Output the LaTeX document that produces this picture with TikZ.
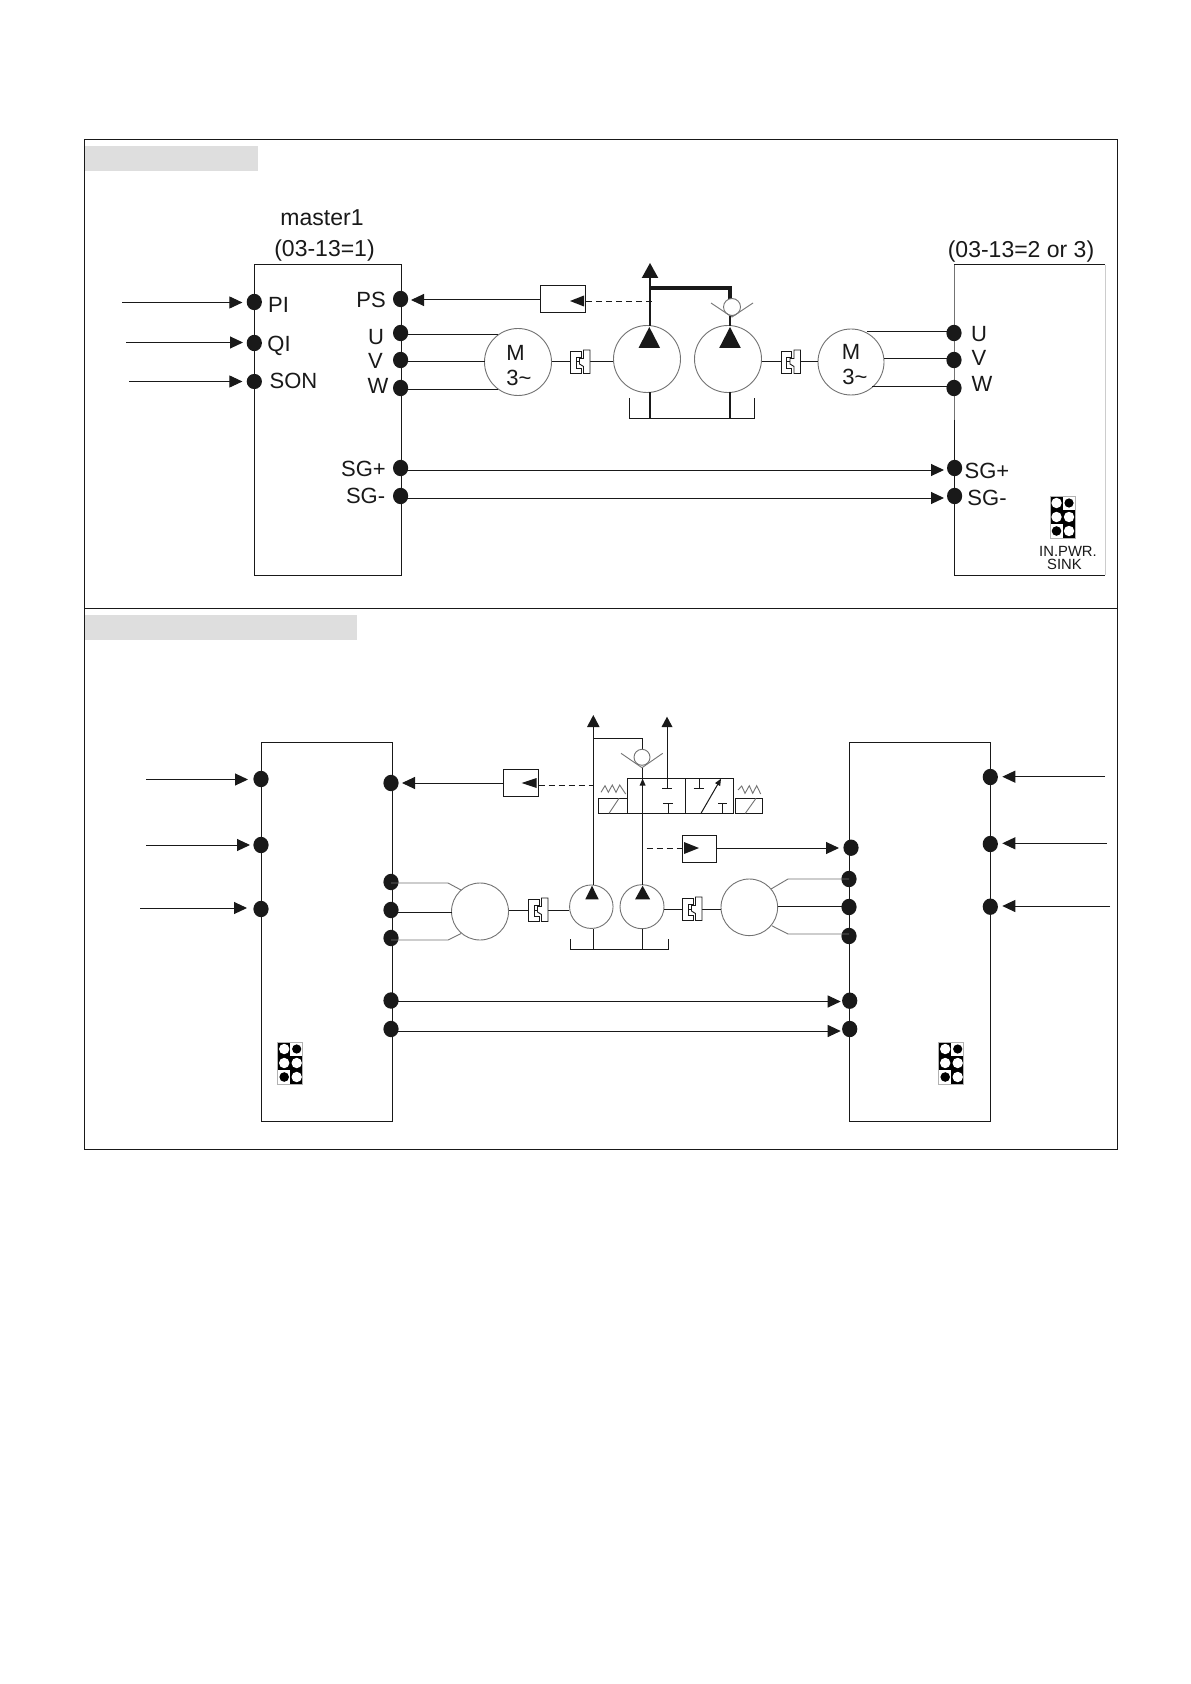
\documentclass[tikz,border=0pt]{standalone}
\usepackage{fontspec}
\setmainfont{Liberation Sans}
\usetikzlibrary{arrows.meta,shapes.geometric}
\definecolor{bandgrey}{gray}{0.87}
\definecolor{thing}{gray}{0.45}
\definecolor{ink}{gray}{0.1}
\tikzset{
  px/.style={x=0.5pt,y=-0.5pt},
  line/.style={draw=ink,line width=0.5pt},
  thinline/.style={draw=thing,line width=0.45pt},
  heavy/.style={draw=ink,line width=1.2pt},
  sig/.style={line,-{Triangle[length=6.5pt,width=6pt]}},
  dashsig/.style={draw=ink,line width=0.5pt,dash pattern=on 3pt off 2pt},
  termdot/.style={ellipse,fill=ink,inner sep=0pt,minimum width=7.6pt,minimum height=8.2pt},
  rotor/.style={circle,draw=thing,line width=0.45pt,inner sep=0pt,fill=white},
  lab/.style={inner sep=0pt,font=\fontsize{11}{11}\selectfont,text=ink},
  biglab/.style={inner sep=0pt,font=\fontsize{11.5}{11.5}\selectfont,text=ink},
  tinylab/.style={inner sep=0pt,font=\fontsize{7.4}{7.4}\selectfont,text=ink,text height=5.3pt,text depth=0pt},
  housing/.style={rectangle,draw=ink,line width=0.5pt,inner sep=0pt,fill=white},
  sensor/.style={rectangle,draw=ink,line width=0.5pt,inner sep=0pt,fill=white},
  coupling/.pic={
    \draw[draw=ink,line width=0.45pt,fill=white] (-10,-11)--(0.5,-11)--(0.5,-5)--(-4.5,-5)--(-4.5,6)--(0.5,6)--(0.5,11.5)--(-10,11.5)--cycle;
    \draw[draw=ink,line width=0.45pt,fill=white] (3,-12)--(9.5,-12)--(9.5,11.5)--(3,11.5)--(3,4.5)--(-1,2)--(-1,-3.5)--(3,-3.5)--cycle;
  },
  jumper/.pic={
    \fill[white] (0,0) rectangle (25,42);
    \fill[black] (0,0) rectangle (12.5,28);
    \fill[black] (12.5,14) rectangle (25,42);
    \draw[gray!60,line width=0.3pt] (0,0) rectangle (25,42);
    \fill[white] (6.5,7) circle [radius=5.2];
    \fill[black] (19,7) circle [radius=4.6];
    \fill[white] (6.5,21) circle [radius=5.2];
    \fill[white] (19,21) circle [radius=5.2];
    \fill[black] (6.5,35) circle [radius=4.8];
    \fill[white] (19,35) circle [radius=5.2];
  },
}
\begin{document}
\begin{tikzpicture}[px]
\useasboundingbox (0,0) rectangle (1190,1684);
\fill[white] (0,0) rectangle (1190,1684);
% frames
\fill[bandgrey] (85,146) rectangle (258,171);
\fill[bandgrey] (85,615) rectangle (357,640);
\draw[line] (84.3,139.5) rectangle (1117,1149);
\draw[line] (84.3,608.5) -- (1117,608.5);

% ---------- upper panel ----------
\node[housing,minimum width=73.5pt,minimum height=155pt] (mA) at (327.5,420) {};
\draw[draw=thing,line width=0.5pt] (954,265) -- (954,420);
\draw[line] (954,265) -- (1105,265);
\draw[line] (954,420) -- (954,575) -- (1105,575);
\draw[draw=gray!40,line width=0.5pt] (1105,265) -- (1105,575);

\node[termdot] (aPI) at (254.3,302) {};
\node[termdot] (aQI) at (254.3,343) {};
\node[termdot,minimum height=7.6pt] (aSON) at (254.3,381.5) {};
\node[termdot] (aPS) at (400.6,299) {};
\node[termdot] (aU) at (400.6,333) {};
\node[termdot] (aV) at (400.6,360) {};
\node[termdot] (aW) at (400.6,388) {};
\node[termdot] (aSP) at (400.6,468) {};
\node[termdot] (aSM) at (400.6,496) {};
\node[termdot] (bU) at (954,333) {};
\node[termdot] (bV) at (954,360) {};
\node[termdot] (bW) at (954,388) {};
\node[termdot] (bSP) at (954.6,468) {};
\node[termdot] (bSM) at (954.6,496) {};

\coordinate (iPI) at (122,302.5);
\coordinate (iQI) at (126.4,342.5);
\coordinate (iSON) at (129,381.5);
\coordinate (tPI) at (242.4,302.5);
\coordinate (tQI) at (243,342.5);
\coordinate (tSON) at (242.4,381.5);
\draw[sig] (iPI) -- (tPI);
\draw[sig] (iQI) -- (tQI);
\draw[sig] (iSON) -- (tSON);

\node[sensor,minimum width=22.5pt,minimum height=13.5pt] (fbA) at (563,299.5) {};
\coordinate (tPS) at (411,300);
\draw[sig] (fbA.west |- tPS) -- (tPS);
\fill[ink] (570,301)--(584,295.5)--(584,306.5)--cycle;

\node[rotor,minimum size=33.5pt] (mot1) at (518,362) {};
\node[rotor,minimum size=33.5pt] (pmp1) at (647,359) {};
\node[rotor,minimum size=33.5pt] (pmp2) at (728,359) {};
\node[rotor,minimum size=33pt] (mot2) at (851,362) {};
\node[lab] (m1a) at (515.5,353) {M};
\node[lab] (m1b) at (519,378) {3\textasciitilde};
\node[lab] (m2a) at (851,352) {M};
\node[lab] (m2b) at (855,377) {3\textasciitilde};

\coordinate (wU1) at (498,335);
\coordinate (wV1) at (484.5,362);
\coordinate (wW1) at (498,390);
\draw[line] (aU |- wU1) -- (wU1);
\draw[line] (aV |- wV1) -- (wV1);
\draw[line] (aW |- wW1) -- (wW1);
\coordinate (wU2) at (867,332);
\coordinate (wV2) at (884,359);
\coordinate (wW2) at (872,387);
\draw[line] (wU2) -- (bU |- wU2);
\draw[line] (wV2) -- (bV |- wV2);
\draw[line] (wW2) -- (bW |- wW2);

\coordinate (cA) at (580.5,362);
\coordinate (cB) at (791,362);
\draw[line] (mot1.east) -- (cA);
\draw[line] (cA) -- (pmp1.west |- cA);
\draw[line] (pmp2.east |- cB) -- (cB);
\draw[line] (cB) -- (mot2.west);
\pic at (cA) {coupling};
\pic at (cB) {coupling};

% pumps, upper
\coordinate (up1) at (650,263);
\coordinate (up1b) at (650,326);
\draw[heavy] (up1b) -- (650,276);
\fill[ink] (650,263)--(641.7,278)--(658.3,278)--cycle;
\coordinate (jn1) at (650,288);
\coordinate (jn2) at (730,288);
\coordinate (jn3) at (730,299);
\draw[draw=ink,line width=1.7pt] (jn1) -- (jn2) -- (jn3);
\node[rotor,minimum size=8.5pt] (ck1) at (732,307) {};
\coordinate (v1l) at (711,303);
\coordinate (v1b) at (732,317);
\coordinate (v1r) at (753,303);
\draw[thinline] (v1l) -- (v1b) -- (v1r);
\draw[heavy] (730,316) -- (730,326);
\fill[ink] (649.3,327)--(638.5,348)--(660.1,348)--cycle;
\fill[ink] (730,327)--(719.2,348)--(740.8,348)--cycle;
\coordinate (t1a) at (629.4,398);
\coordinate (t1b) at (629.4,419);
\coordinate (t1c) at (754.7,419);
\coordinate (t1d) at (754.7,398);
\draw[line] (t1a) -- (t1b) -- (t1c) -- (t1d);
\draw[heavy] (650,392.5) -- (650,419);
\draw[heavy] (730,392.5) -- (730,419);
\coordinate (dA) at (652,302);
\draw[dashsig] (fbA.east |- dA) -- (dA);

\coordinate (sgA) at (944,470);
\coordinate (sgB) at (944,498);
\draw[sig] (aSP |- sgA) -- (sgA);
\draw[sig] (aSM |- sgB) -- (sgB);

\node[biglab] (tMaster) at (322,218) {master1};
\node[biglab] (tOne) at (324.5,250.5) {(03-13=1)};
\node[biglab] (tTwo) at (1021,251.5) {(03-13=2 or 3)};
\node[lab] (lPI) at (278.5,305) {PI};
\node[lab] (lQI) at (279,346) {QI};
\node[lab] (lSON) at (293.5,381) {SON};
\node[lab] (lPS) at (371,300) {PS};
\node[lab] (lU) at (376,337) {U};
\node[lab] (lV) at (375.5,360.5) {V};
\node[lab] (lW) at (378,386) {W};
\node[lab] (lSP) at (363.5,469) {SG+};
\node[lab] (lSM) at (365.6,496) {SG-};
\node[lab] (rU) at (979,334) {U};
\node[lab] (rV) at (979,358) {V};
\node[lab] (rW) at (982,383.5) {W};
\node[lab] (rSP) at (987,471) {SG+};
\node[lab] (rSM) at (987,498) {SG-};
\pic at (1050,496) {jumper};
\node[tinylab] (jIn) at (1068,551.5) {IN.PWR.};
\node[tinylab] (jSink) at (1064.5,564.5) {SINK};

% ---------- lower panel ----------
\node[housing,minimum width=65.5pt,minimum height=189.5pt] (mC) at (326.5,931.5) {};
\node[housing,minimum width=70.5pt,minimum height=189.5pt] (mD) at (919.8,931.5) {};

\node[termdot] (cI1) at (261,779) {};
\node[termdot] (cI2) at (261,845) {};
\node[termdot] (cI3) at (261,909) {};
\node[termdot] (cPS) at (391,783) {};
\node[termdot] (cU) at (391,882) {};
\node[termdot] (cV) at (391,910) {};
\node[termdot] (cW) at (391,938) {};
\node[termdot] (cSP) at (391,1000.5) {};
\node[termdot] (cSM) at (391,1029) {};
\node[termdot] (dPS) at (851,847.7) {};
\node[termdot] (dU) at (849,879) {};
\node[termdot] (dV) at (849,907) {};
\node[termdot] (dW) at (849,936) {};
\node[termdot] (dSP) at (849.7,1000.7) {};
\node[termdot] (dSM) at (849.7,1029) {};
\node[termdot] (dI1) at (990.3,777) {};
\node[termdot] (dI2) at (990.3,844) {};
\node[termdot] (dI3) at (990.3,906.7) {};

\coordinate (iC1) at (146,779.5);
\coordinate (iC2) at (146,845);
\coordinate (iC3) at (140,908);
\coordinate (tC1) at (248,779.5);
\coordinate (tC2) at (250,845);
\coordinate (tC3) at (247,908);
\draw[sig] (iC1) -- (tC1);
\draw[sig] (iC2) -- (tC2);
\draw[sig] (iC3) -- (tC3);
\coordinate (iD1) at (1105,776.7);
\coordinate (iD2) at (1106.7,843.3);
\coordinate (iD3) at (1110,906);
\coordinate (tD1) at (1002.3,776.7);
\coordinate (tD2) at (1002.3,843.3);
\coordinate (tD3) at (1002.3,906);
\draw[sig] (iD1) -- (tD1);
\draw[sig] (iD2) -- (tD2);
\draw[sig] (iD3) -- (tD3);

\node[sensor,minimum width=17.5pt,minimum height=13.5pt] (fbC) at (520.5,782.5) {};
\coordinate (tCP) at (402,783);
\draw[sig] (fbC.west |- tCP) -- (tCP);
\fill[ink] (521.7,783)--(536.7,778)--(536.7,788)--cycle;
\coordinate (dC) at (593.3,785);
\draw[dashsig] (fbC.east |- dC) -- (dC);

\node[sensor,minimum width=17pt,minimum height=13.5pt] (fbD) at (699,848.5) {};
\fill[ink] (699,848)--(684,842)--(684,854)--cycle;
\coordinate (dD) at (646.7,848);
\draw[dashsig] (dD) -- (fbD.west |- dD);
\coordinate (tDP) at (839,848);
\draw[sig] (fbD.east |- tDP) -- (tDP);

\node[rotor,minimum size=28.5pt] (mot3) at (480,911.5) {};
\node[rotor,minimum size=21.75pt] (pmp3) at (591.3,906.7) {};
\node[rotor,minimum size=22pt] (pmp4) at (642,906.7) {};
\node[rotor,minimum size=28.3pt] (mot4) at (749.3,907.3) {};

\coordinate (x1) at (448,883);
\coordinate (x2) at (461,890);
\coordinate (x3) at (448,940);
\coordinate (x4) at (461,933.5);
\coordinate (x5) at (452,912);
\draw[thinline] (cU |- x1) -- (x1) -- (x2);
\draw[line] (cV |- x5) -- (x5);
\draw[thinline] (cW |- x3) -- (x3) -- (x4);
\coordinate (y1) at (771,889);
\coordinate (y2) at (788,879);
\coordinate (y3) at (771.7,925.7);
\coordinate (y4) at (788,934);
\coordinate (y5) at (777.7,906);
\draw[thinline] (y1) -- (y2) -- (dU |- y2);
\draw[line] (y5) -- (dV |- y5);
\draw[thinline] (y3) -- (y4) -- (dW |- y4);

\coordinate (cC) at (538.5,910);
\coordinate (cD) at (692.5,909);
\draw[line] (mot3.east |- cC) -- (cC);
\draw[line] (cC) -- (pmp3.west |- cC);
\draw[line] (pmp4.east |- cD) -- (cD);
\draw[line] (cD) -- (mot4.west |- cD);
\pic at (cC) {coupling};
\pic at (cD) {coupling};

% lower hydraulics
\coordinate (p3t) at (593.3,884.5);
\coordinate (ar1) at (593.3,726);
\draw[line] (p3t) -- (ar1);
\fill[ink] (593.3,715)--(587,727)--(599.6,727)--cycle;
\coordinate (b1) at (593.3,738);
\coordinate (b2) at (642.3,738);
\coordinate (b3) at (642.3,749.5);
\draw[line] (b1) -- (b2) -- (b3);
\node[rotor,minimum size=8pt] (ck2) at (642,757.3) {};
\coordinate (v2l) at (621,753.3);
\coordinate (v2b) at (642,767.7);
\coordinate (v2r) at (662.7,753.3);
\draw[thinline] (v2l) -- (v2b) -- (v2r);
\coordinate (vt) at (642.3,778.3);
\draw[line] (642.3,767.7) -- (vt);
\node[rectangle,draw=ink,line width=0.5pt,inner sep=0pt,minimum width=53pt,minimum height=17.5pt] (vlv) at (680.3,795.8) {};
\draw[line] (685.3,778.3) -- (685.3,813.3);
\draw[line] (vt) -- (642.3,884.5);
\fill[ink] (642.6,778.7)--(639.6,785.5)--(645.6,785.5)--cycle;
\fill[ink] (592,885.7)--(585.3,899.3)--(598.7,899.3)--cycle;
\fill[ink] (642.6,885.7)--(635.1,899.3)--(650.1,899.3)--cycle;
% second outlet
\coordinate (ar2) at (667,726);
\coordinate (tb2) at (667,788.3);
\draw[line] (tb2) -- (ar2);
\fill[ink] (667,716.7)--(661.5,727)--(672.5,727)--cycle;
\draw[line] (662,788.3) -- (672,788.3);
\draw[line] (668.3,813.3) -- (668.3,803.3);
\draw[line] (663,803.3) -- (673,803.3);
\draw[line] (699,778.3) -- (699,788.3);
\draw[line] (693.7,788.3) -- (704,788.3);
\draw[line,-{Triangle[length=3.4pt,width=2.8pt]}] (701,813.3) -- (721,778.7);
\draw[line] (722.3,813.3) -- (722.3,803.3);
\draw[line] (718.3,803.3) -- (726.7,803.3);
% solenoids
\draw[line] (598.3,798.3) rectangle (627.3,813.3);
\draw[thinline] (609,813.3) -- (619,798.3);
\draw[thinline] (601,792.3)--(605,785.7)--(608.3,792.3)--(612.3,785)--(616,792.3)--(619.7,785)--(625.7,794);
\draw[line] (735.3,798.3) rectangle (762.7,813.3);
\draw[thinline] (745.3,813.3) -- (756,798.3);
\draw[thinline] (738,790)--(741.7,786)--(745,793.3)--(749.3,785.7)--(752.7,793.3)--(756.7,785.7)--(760.7,794);
% tank
\coordinate (t2a) at (570.3,939);
\coordinate (t2b) at (570.3,949.3);
\coordinate (t2c) at (668.3,949.3);
\coordinate (t2d) at (668.3,939);
\draw[line] (t2a) -- (t2b) -- (t2c) -- (t2d);
\draw[line] (593.3,929) -- (593.3,949.3);
\draw[line] (642.3,929) -- (642.3,949.3);

\coordinate (sgC) at (840.7,1001.5);
\coordinate (sgD) at (840.7,1031);
\draw[sig] (cSP |- sgC) -- (sgC);
\draw[sig] (cSM |- sgD) -- (sgD);

\pic at (277.7,1042) {jumper};
\pic at (938.7,1042) {jumper};
\end{tikzpicture}
\end{document}
